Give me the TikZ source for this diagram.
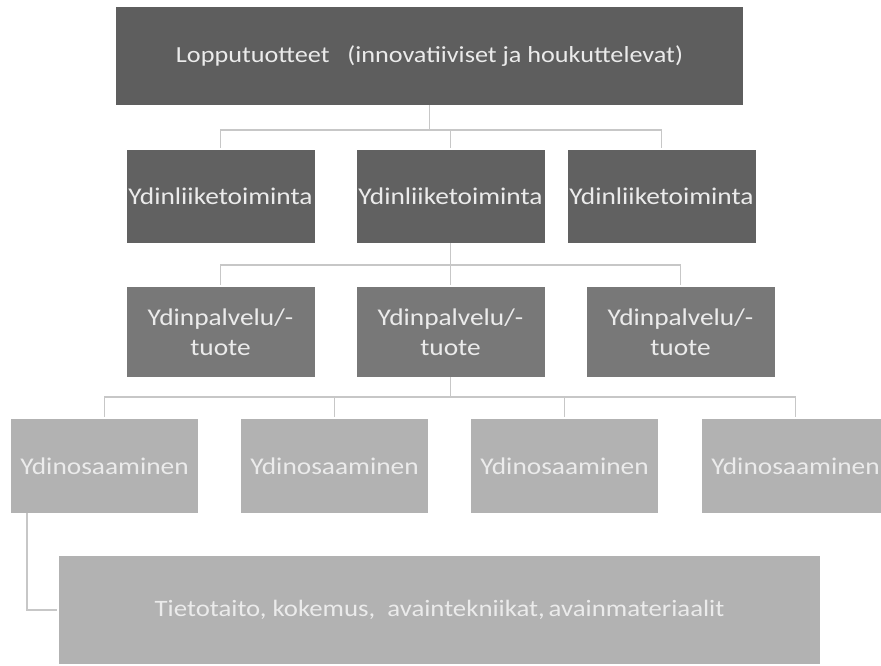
\documentclass[tikz,border=0pt]{standalone}
\usepackage{fontspec}
\setmainfont{Carlito}[FakeStretch=1.14]
\usetikzlibrary{positioning}

\begin{document}
\begin{tikzpicture}[x=1pt,y=-1pt,node distance=230pt]
  \tikzstyle{box}=[rectangle,inner sep=0pt,text=white!92!black,align=center,font=\fontsize{24}{30}\selectfont]
  \tikzstyle{goal}=[box,fill=black!63,minimum width=627pt,minimum height=98pt,font=\fontsize{23}{27}\selectfont]
  \tikzstyle{core}=[box,fill=black!62,minimum width=188pt,minimum height=93pt]
  \tikzstyle{prod}=[box,fill=black!53,minimum width=188pt,minimum height=90pt]
  \tikzstyle{skill}=[box,fill=black!30,minimum width=187pt,minimum height=94pt]
  \tikzstyle{base}=[skill,minimum width=761pt,minimum height=108pt,font=\fontsize{23.5}{28}\selectfont]
  \tikzstyle{link}=[draw=black!22,line width=1.6pt,shorten >=2pt]

  \useasboundingbox (0,0) rectangle (881,666);

  \node[goal]  (L)  at (429.5,56) {Lopputuotteet\ \ \ (innovatiiviset ja houkuttelevat)};

  \node[core]  (Y2) at (450.5,196.5) {Ydinliiketoiminta};
  \node[core]  (Y1) [left of=Y2] {Ydinliiketoiminta};
  \node[core]  (Y3) [right of=Y2, xshift=-19pt] {Ydinliiketoiminta};

  \node[prod]  (P2) [below of=Y2, node distance=135.5pt] {Ydinpalvelu/-\\tuote};
  \node[prod]  (P1) [left of=P2] {Ydinpalvelu/-\\tuote};
  \node[prod]  (P3) [right of=P2] {Ydinpalvelu/-\\tuote};

  \node[skill] (O1) at (104.5,466) {Ydinosaaminen};
  \node[skill] (O2) [right of=O1] {Ydinosaaminen};
  \node[skill] (O3) [right of=O2] {Ydinosaaminen};
  \node[skill] (O4) [right of=O3, xshift=1pt] {Ydinosaaminen};

  \node[base]  (B)  at (439.5,610) {Tietotaito, kokemus,\ \ avaintekniikat,\,avainmateriaalit};

  \coordinate (J1) at ([yshift=-25pt]L.south);
  \coordinate (J2) at ([yshift=-22pt]Y2.south);
  \coordinate (J3) at ([yshift=-20pt]P2.south);

  \draw[link] (L.south) -- (J1) -| (Y1.north);
  \draw[link] (J1) -| (Y2.north);
  \draw[link] (J1) -| (Y3.north);

  \draw[link] (Y2.south) -- (J2) -| (P1.north);
  \draw[link] (J2) -- (P2.north);
  \draw[link] (J2) -| (P3.north);

  \draw[link] (P2.south) -- (J3) -| (O1.north);
  \draw[link] (J3) -| (O2.north);
  \draw[link] (J3) -| (O3.north);
  \draw[link] (J3) -| (O4.north);

  \draw[link] ([xshift=16pt]O1.south west) |- (B.west);
\end{tikzpicture}
\end{document}
